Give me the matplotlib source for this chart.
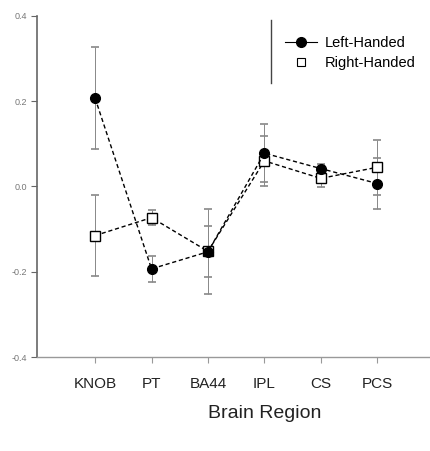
import numpy as np
import matplotlib
matplotlib.use("Agg")
from matplotlib import pyplot as plt
from matplotlib.lines import Line2D

plt.rcParams['font.family'] = ['Liberation Sans', 'DejaVu Sans']

regions = ["KNOB", "PT", "BA44", "IPL", "CS", "PCS"]
left_mean = [0.207, -0.193, -0.153, 0.078, 0.042, 0.007]
left_err = [0.12, 0.03, 0.10, 0.068, 0.01, 0.06]
right_mean = [-0.115, -0.073, -0.152, 0.060, 0.019, 0.045]
right_err = [0.095, 0.017, 0.06, 0.058, 0.02, 0.065]
yticks = [-0.4, -0.2, 0.0, 0.2, 0.4]
ytick_labels = ["-0.4", "-0.2", "0.0", "0.2", "0.4"]

x = np.arange(1, len(regions) + 1)

fig = plt.figure(figsize=(4.30, 4.51), dpi=100)
ax = fig.add_axes([0.086, 0.208, 0.912, 0.757])

ax.errorbar(x, left_mean, yerr=left_err, fmt='none', ecolor='#888888',
            elinewidth=0.7, capsize=3, capthick=1.2, zorder=1)
ax.errorbar(x, right_mean, yerr=right_err, fmt='none', ecolor='#888888',
            elinewidth=0.7, capsize=3, capthick=1.2, zorder=1)

ax.plot(x, left_mean, color='black', linestyle=(0, (3, 2)), linewidth=1.0,
        marker='o', markersize=7, markerfacecolor='black',
        markeredgecolor='black', zorder=3)
ax.plot(x, right_mean, color='black', linestyle=(0, (3, 2)), linewidth=1.0,
        marker='s', markersize=6.5, markerfacecolor='white',
        markeredgecolor='black', markeredgewidth=1.0, zorder=2)

ax.set_xlim(-0.03, 6.92)
ax.set_ylim(-0.4, 0.4)
ax.set_xticks(x)
ax.set_xticklabels(regions, fontsize=11, color='#222222')
ax.set_yticks(yticks)
ax.set_yticklabels(ytick_labels, fontsize=6.5, color='#777777')
ax.tick_params(axis='x', length=4, width=0.8, color='#999999', pad=10)
ax.tick_params(axis='y', length=4, width=0.8, color='#666666', pad=3)

ax.spines['top'].set_visible(False)
ax.spines['right'].set_visible(False)
ax.spines['left'].set_color('#666666')
ax.spines['bottom'].set_color('#999999')
ax.spines['left'].set_linewidth(1.2)
ax.spines['bottom'].set_linewidth(1.0)

ax.set_xlabel("Brain Region", fontsize=14, color='#222222')
ax.xaxis.set_label_coords(0.58, -0.14)

handles = [
    Line2D([], [], color='black', marker='o', markersize=7, linestyle='-',
           linewidth=0.8),
    Line2D([], [], color='black', marker='s', markersize=6, linestyle='none',
           markerfacecolor='white', markeredgewidth=0.8),
]
leg = ax.legend(handles, ["Left-Handed", "Right-Handed"], loc='upper left',
                bbox_to_anchor=(0.60, 0.98), frameon=False, fontsize=10.5,
                handlelength=2.2, handletextpad=0.5, labelspacing=0.45)
fig.add_artist(Line2D([0.630, 0.630], [0.815, 0.955], color='#444444',
                      linewidth=1.0, transform=fig.transFigure))

fig.savefig("out.png", dpi=100)
